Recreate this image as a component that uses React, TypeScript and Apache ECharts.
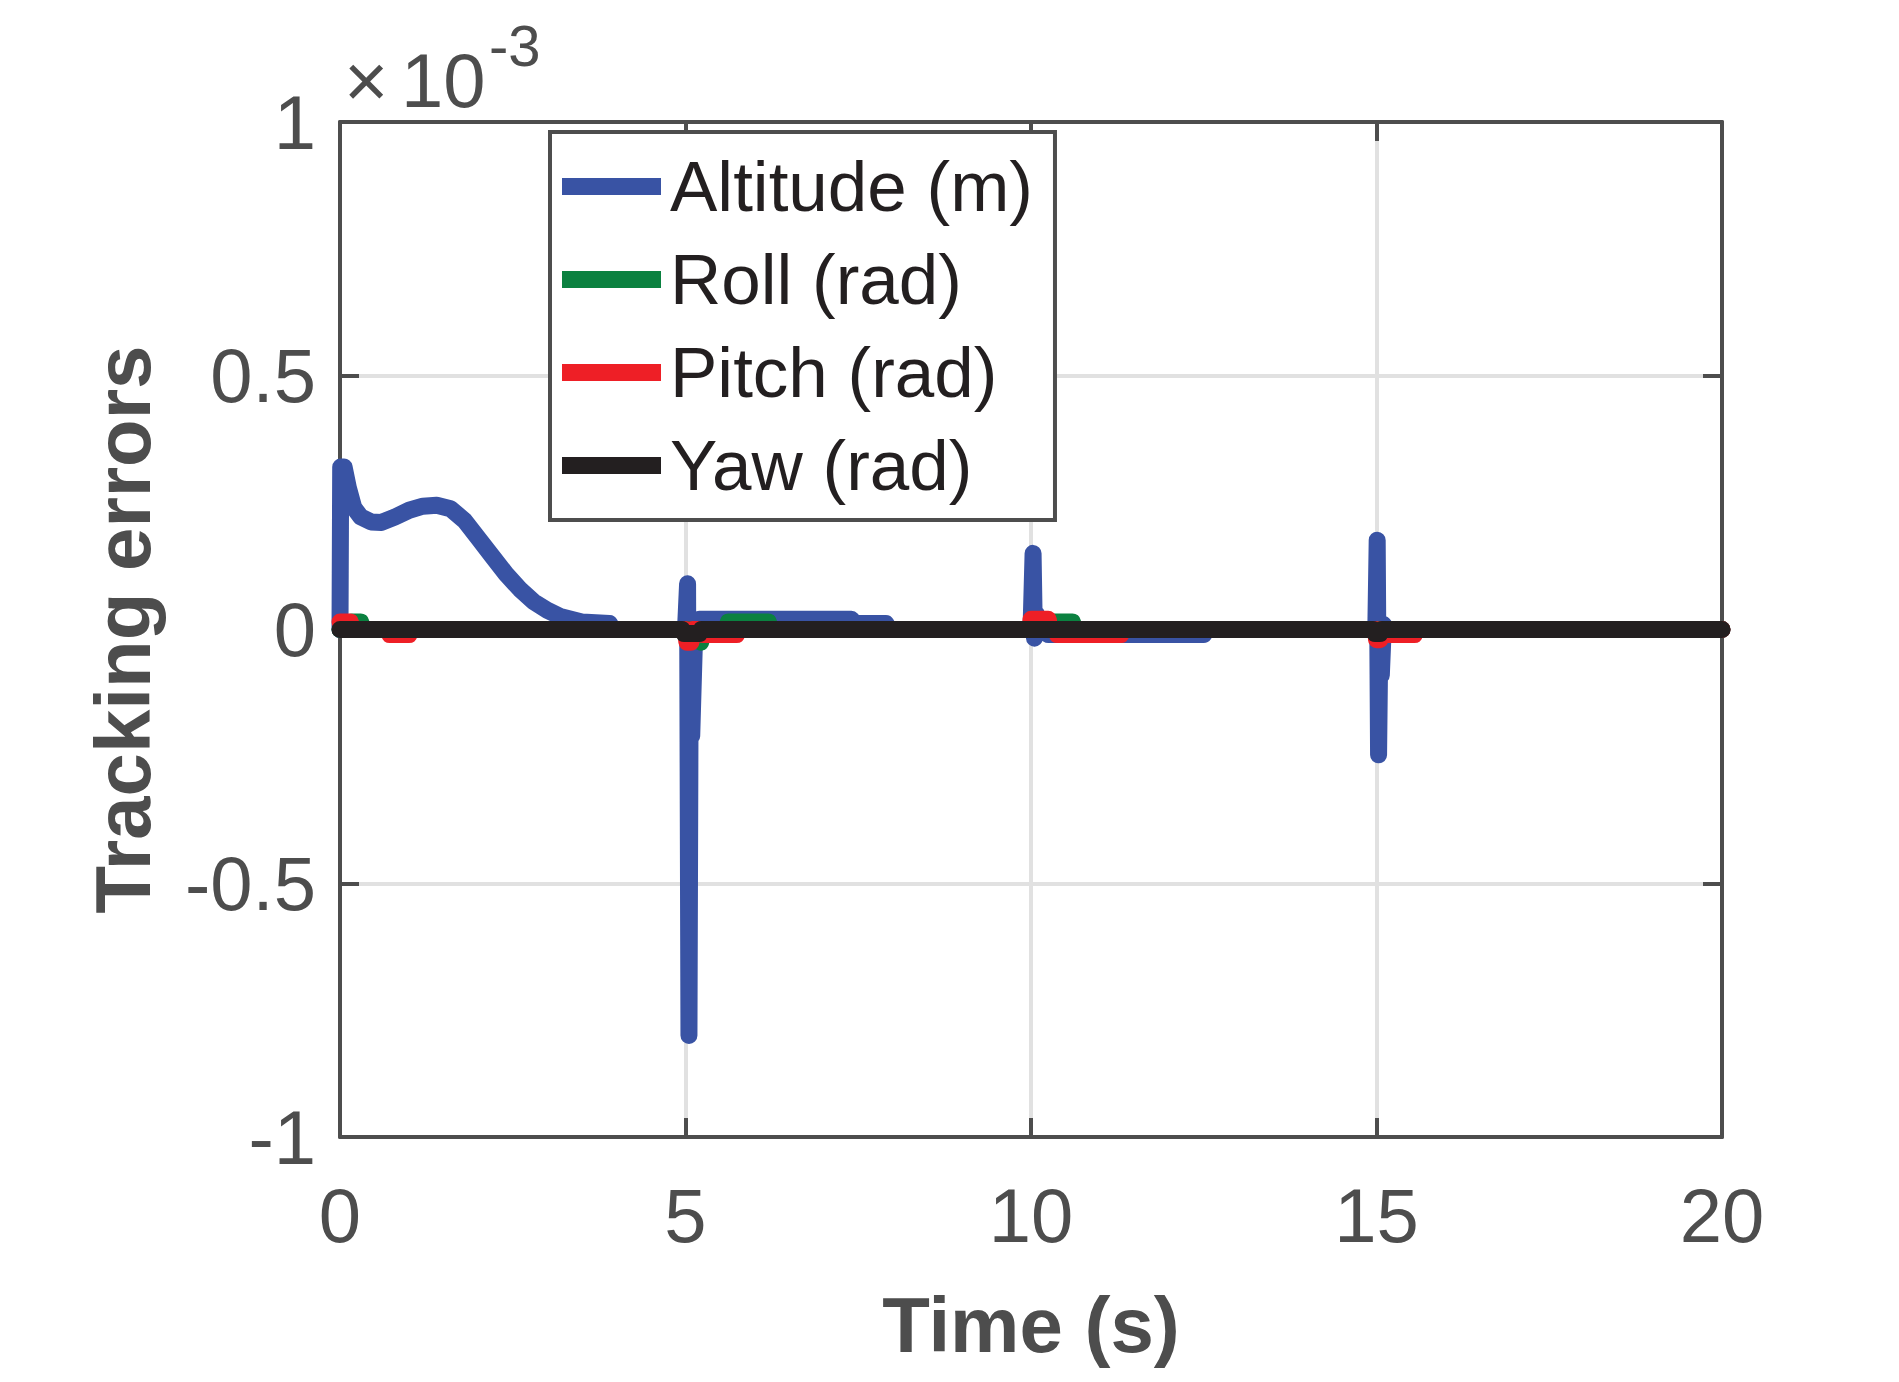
import React, { useEffect, useRef } from "react";
import * as echarts from "echarts";

// ---- data (y values in units of 1e-3) ----
const xTicks = [0, 5, 10, 15, 20];
const yTicks = [-1, -0.5, 0, 0.5, 1];
const seriesNames = ["Altitude (m)", "Roll (rad)", "Pitch (rad)", "Yaw (rad)"];

const altitudeT = [0, 0.01, 0.06, 0.12, 0.2, 0.3, 0.45, 0.6, 0.8, 1.0, 1.2, 1.4, 1.6, 1.8, 2.0, 2.2, 2.4, 2.6, 2.8, 3.0, 3.2, 3.5, 3.9, 3.95, 5.0, 5.03, 5.05, 5.07, 5.09, 5.13, 5.2, 7.4, 7.45, 7.9, 7.95, 10.0, 10.03, 10.05, 10.08, 10.15, 10.25, 12.5, 12.55, 14.99, 15.01, 15.03, 15.05, 15.07, 15.1, 15.15, 20];
const altitudeV = [0, 0.32, 0.32, 0.28, 0.24, 0.222, 0.212, 0.211, 0.222, 0.235, 0.243, 0.245, 0.238, 0.215, 0.18, 0.145, 0.11, 0.08, 0.055, 0.038, 0.025, 0.015, 0.012, 0, 0, 0.09, -0.8, 0.0, -0.21, -0.02, 0.02, 0.02, 0.012, 0.012, 0, 0, 0.15, -0.017, 0.03, 0.0, -0.01, -0.01, 0, 0, 0.176, -0.247, 0.0, -0.09, 0.01, 0, 0];

const rollT = [0, 0.15, 0.17, 0.3, 0.32, 5.18, 5.22, 5.26, 5.6, 5.62, 6.2, 6.22, 10.25, 10.27, 10.6, 10.62, 20];
const rollV = [0, 0, 0.015, 0.015, 0, 0, -0.025, 0, 0, 0.015, 0.015, 0, 0, 0.015, 0.015, 0, 0];

const pitchT = [0, 0.01, 0.15, 0.17, 0.7, 0.72, 1.0, 1.02, 5.0, 5.02, 5.08, 5.1, 5.24, 5.26, 5.74, 5.76, 9.99, 10.0, 10.25, 10.27, 10.36, 10.38, 11.3, 11.32, 14.99, 15.0, 15.05, 15.07, 15.18, 15.2, 15.55, 15.57, 20];
const pitchV = [0.015, 0.015, 0.015, 0, 0, -0.01, -0.01, 0, 0, -0.025, -0.025, 0, 0, -0.01, -0.01, 0, 0, 0.02, 0.02, 0, 0, -0.01, -0.01, 0, 0, -0.02, -0.02, 0, 0, -0.01, -0.01, 0, 0];

const yawT = [0, 4.95, 4.98, 5.2, 5.23, 14.95, 14.98, 15.05, 15.08, 20];
const yawV = [0, 0, -0.008, -0.008, 0, 0, -0.008, -0.008, 0, 0];

const seriesColors = ["#3953a4", "#0b8140", "#ee1f26", "#231f20"];

const FONT = "Liberation Sans, Arial, Helvetica, sans-serif";
const AX = "#4d4d4d";

function pairs(t: number[], v: number[]) {
  return t.map((x, i) => [x, v[i]]);
}

export default function App() {
  const ref = useRef<HTMLDivElement>(null);
  useEffect(() => {
    document.body.style.margin = "0";
    const chart = echarts.init(ref.current!, null, { renderer: "svg" });
    const allT = [altitudeT, rollT, pitchT, yawT];
    const allV = [altitudeV, rollV, pitchV, yawV];
    const axisLine = { show: true, onZero: false, lineStyle: { color: AX, width: 4 } };
    const axisTick = { show: true, inside: true, length: 19, lineStyle: { color: AX, width: 4 } };
    const option: any = {
      animation: false,
      backgroundColor: "#ffffff",
      grid: { left: 340, top: 122, width: 1382, height: 1015, containLabel: false },
      legend: {
        orient: "vertical",
        left: 550,
        top: 132,
        data: seriesNames,
        icon: "rect",
        itemWidth: 99,
        itemHeight: 17,
        itemGap: 22,
        padding: [19, 22, 19, 12],
        borderColor: AX,
        borderWidth: 4,
        borderRadius: 0,
        backgroundColor: "#ffffff",
        textStyle: { fontSize: 71, color: "#231f20", fontFamily: FONT, padding: [0, 0, 0, 4] },
      },
      xAxis: [
        {
          type: "value",
          min: xTicks[0],
          max: xTicks[xTicks.length - 1],
          interval: 5,
          position: "bottom",
          name: "Time (s)",
          nameLocation: "middle",
          nameGap: 149,
          nameTextStyle: { fontSize: 78, fontWeight: "bold", color: AX, fontFamily: FONT },
          axisLine,
          axisTick,
          axisLabel: { fontSize: 76, color: AX, margin: 40, fontFamily: FONT, formatter: (v: number) => String(v) },
          splitLine: { show: true, lineStyle: { color: "#e1e1e1", width: 4 } },
        },
        {
          type: "value",
          min: xTicks[0],
          max: xTicks[xTicks.length - 1],
          interval: 5,
          position: "top",
          axisLine,
          axisTick,
          axisLabel: { show: false },
          splitLine: { show: false },
        },
      ],
      yAxis: [
        {
          type: "value",
          min: yTicks[0],
          max: yTicks[yTicks.length - 1],
          interval: 0.5,
          position: "left",
          name: "Tracking errors",
          nameLocation: "middle",
          nameGap: 178,
          nameRotate: 90,
          nameTextStyle: { fontSize: 78, fontWeight: "bold", color: AX, fontFamily: FONT },
          axisLine,
          axisTick,
          axisLabel: { fontSize: 76, color: AX, margin: 24, fontFamily: FONT, formatter: (v: number) => String(v) },
          splitLine: { show: true, lineStyle: { color: "#e1e1e1", width: 4 } },
        },
        {
          type: "value",
          min: yTicks[0],
          max: yTicks[yTicks.length - 1],
          interval: 0.5,
          position: "right",
          axisLine,
          axisTick,
          axisLabel: { show: false },
          splitLine: { show: false },
        },
      ],
      graphic: [
        {
          type: "text",
          x: 344,
          y: 118,
          style: { text: "×", font: `76px ${FONT}`, fill: AX, verticalAlign: "bottom", align: "left" },
        },
        {
          type: "text",
          x: 401,
          y: 118,
          style: { text: "10", font: `76px ${FONT}`, fill: AX, verticalAlign: "bottom", align: "left" },
        },
        {
          type: "text",
          x: 489,
          y: 74,
          style: { text: "-3", font: `58px ${FONT}`, fill: AX, verticalAlign: "bottom", align: "left" },
        },
      ],
      series: seriesNames.map((name, i) => ({
        name,
        type: "line",
        xAxisIndex: 0,
        yAxisIndex: 0,
        data: pairs(allT[i], allV[i]),
        showSymbol: false,
        symbol: "none",
        clip: false,
        color: seriesColors[i],
        lineStyle: { color: seriesColors[i], width: 17, cap: "round", join: "round" },
        itemStyle: { color: seriesColors[i] },
      })),
    };
    chart.setOption(option);
    return () => chart.dispose();
  }, []);
  return <div ref={ref} style={{ width: 1899, height: 1382 }} />;
}
